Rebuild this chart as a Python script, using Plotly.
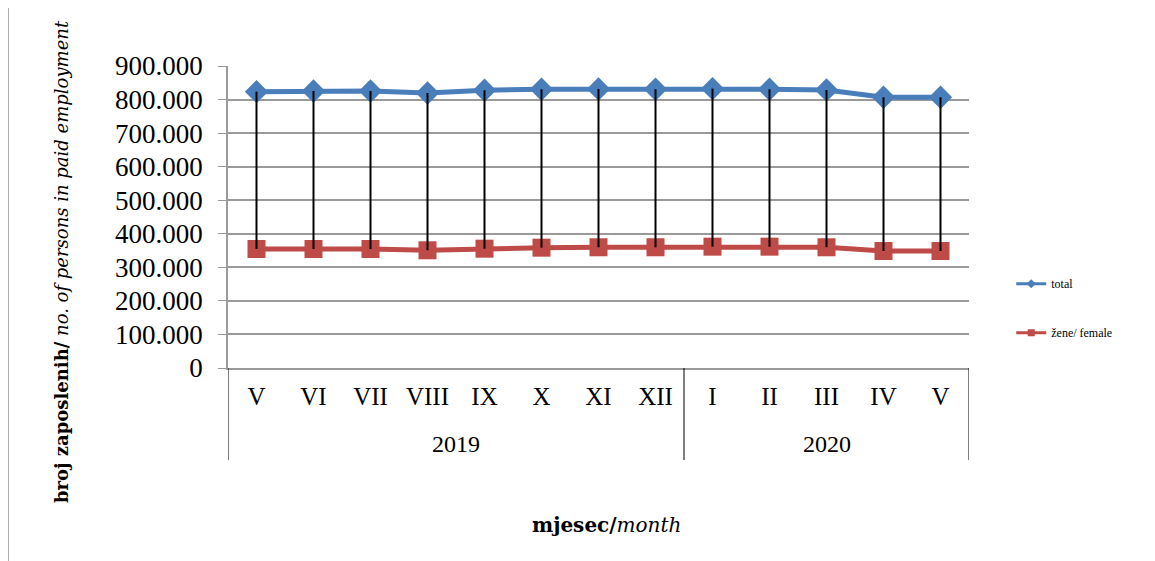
import plotly.graph_objects as go

years = ["2019"] * 8 + ["2020"] * 5
months = ["V", "VI", "VII", "VIII", "IX", "X", "XI", "XII", "I", "II", "III", "IV", "V"]
total = [823500, 825600, 825600, 819700, 827700, 830700, 831600, 830700,
         832500, 830700, 828600, 806800, 806800]
female = [354700, 354700, 354700, 350800, 355600, 358600, 359800, 359800,
          361600, 361600, 359800, 348700, 348700]
y_ticks = [0, 100000, 200000, 300000, 400000, 500000, 600000, 700000, 800000, 900000]

keys = [m + " " + y for m, y in zip(months, years)]
diff = [t - f for t, f in zip(total, female)]
blue = "#4A7EBB"
red = "#BE4B48"

fig = go.Figure()
fig.add_trace(go.Scatter(
    x=keys, y=total, name="total", mode="lines+markers", showlegend=False,
    line=dict(color=blue, width=5),
    marker=dict(symbol="diamond", size=18, color=blue),
))
fig.add_trace(go.Scatter(
    x=keys, y=female, name="žene/ female", mode="lines+markers", showlegend=False,
    line=dict(color=red, width=5),
    marker=dict(symbol="square", size=18, color=red),
))
fig.add_trace(go.Scatter(
    x=keys, y=female, mode="markers", showlegend=False, hoverinfo="skip",
    marker=dict(size=1, opacity=0),
    error_y=dict(type="data", symmetric=False, array=diff,
                 arrayminus=[0] * len(diff), color="black", thickness=2, width=0),
))
# legend entries
fig.add_trace(go.Scatter(
    x=[keys[0]], y=[None], name="total", mode="lines+markers",
    line=dict(color=blue, width=3), marker=dict(symbol="diamond", size=7, color=blue),
    legendgroup="a",
))
fig.add_trace(go.Scatter(
    x=[keys[0]], y=[None], name="žene/ female", mode="lines+markers",
    line=dict(color=red, width=3), marker=dict(symbol="square", size=7, color=red),
    legendgroup="b",
))

# year group labels and dividers
year_names = []
for y in years:
    if y not in year_names:
        year_names.append(y)
annotations = []
shapes = [dict(type="line", xref="paper", yref="paper",
               x0=-0.297, x1=-0.297, y0=-2, y1=2,
               line=dict(color="#888888", width=1.5))]
bounds = [-0.5]
for yn in year_names:
    idx = [i for i, y in enumerate(years) if y == yn]
    mid = (idx[0] + idx[-1]) / 2
    annotations.append(dict(text=yn, xref="x", yref="paper", x=mid, y=-0.25,
                            showarrow=False, xanchor="center", yanchor="middle",
                            font=dict(family="Liberation Serif", size=24)))
    bounds.append(idx[-1] + 0.5)
for b in bounds:
    shapes.append(dict(type="line", xref="x", yref="paper", x0=b, x1=b,
                       y0=0, y1=-0.305, line=dict(color="black", width=1)))

annotations += [
    dict(text="<b>broj zaposlenih/</b><i> no. of persons in paid employment</i>",
         xref="paper", yref="paper", x=-0.224, y=0.351, textangle=-90,
         showarrow=False, font=dict(family="DejaVu Serif", size=18),
         xanchor="center", yanchor="middle"),
    dict(text="<b>mjesec/</b><i>month</i>",
         xref="paper", yref="paper", x=0.511, y=-0.52,
         showarrow=False, font=dict(family="DejaVu Serif", size=20),
         xanchor="center", yanchor="middle"),
]

fig.update_layout(
    width=1155, height=561,
    margin=dict(l=220, r=194, t=58, b=201, autoexpand=False),
    paper_bgcolor="white", plot_bgcolor="white",
    separators=",.",
    font=dict(family="Liberation Serif", color="black"),
    showlegend=True,
    legend=dict(x=1.057, y=0.327, xanchor="left", yanchor="top",
                font=dict(family="Liberation Serif", size=12),
                tracegroupgap=30, itemsizing="trace", bgcolor="rgba(0,0,0,0)"),
    shapes=shapes,
    annotations=annotations,
)
fig.update_yaxes(
    range=[0, 900000], tickvals=y_ticks, tickformat=",d", automargin=False,
    showgrid=True, gridcolor="#9a9a9a", gridwidth=1.5,
    showline=True, linecolor="#9a9a9a", linewidth=1.5,
    ticks="outside", ticklen=8, tickcolor="#9a9a9a", ticklabelstandoff=10,
    tickfont=dict(family="Liberation Serif", size=27),
    zeroline=False,
)
fig.update_xaxes(
    type="category", automargin=False, range=[-0.5, len(keys) - 0.5],
    tickvals=keys, ticktext=months,
    showline=True, linecolor="#9a9a9a", linewidth=1.5,
    ticks="", ticklabelstandoff=5,
    tickfont=dict(family="Liberation Serif", size=25),
    showgrid=False,
)

fig.write_html("out.html")
